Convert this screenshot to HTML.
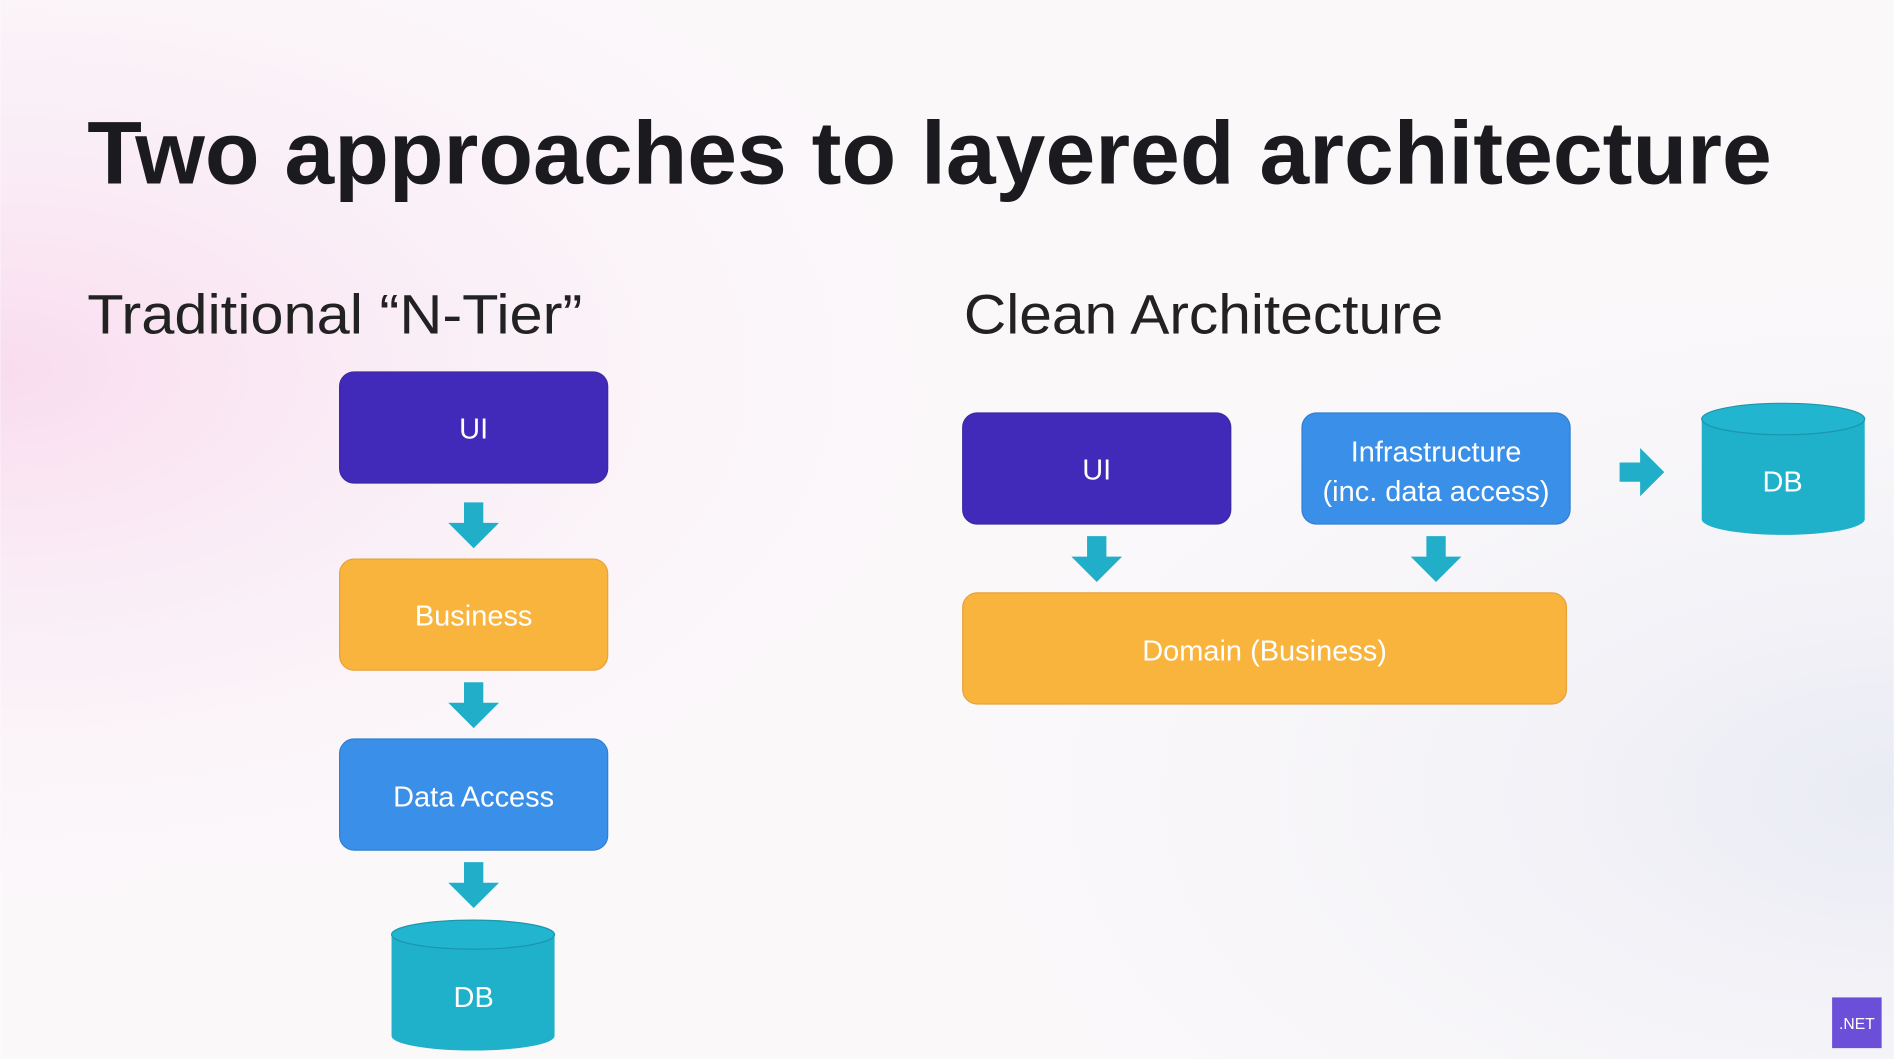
<!DOCTYPE html>
<html><head><meta charset="utf-8"><style>
html,body{margin:0;padding:0;width:1894px;height:1059px;overflow:hidden;background:#fff}
svg{display:block}
</style></head><body>
<svg width="1894" height="1059" viewBox="0 0 1568 877" xmlns="http://www.w3.org/2000/svg">
<defs>
<radialGradient id="pk" cx="0" cy="0.35" r="0.55">
<stop offset="0" stop-color="#f9dcef"/><stop offset="1" stop-color="#fbf6fa" stop-opacity="0"/></radialGradient>
<radialGradient id="gr" cx="1" cy="0.75" r="0.5">
<stop offset="0" stop-color="#e9ebf4"/><stop offset="1" stop-color="#f4f4f8" stop-opacity="0"/></radialGradient>
<g id="ad"><path d="M-8,0 H8 V17 H21 L0,38 L-21,17 H-8 Z" fill="#21aec9"/></g>
</defs>
<rect width="1568" height="877" fill="#fbf8fa"/>
<rect width="1568" height="877" fill="url(#pk)"/>
<rect width="1568" height="877" fill="url(#gr)"/>
<g font-family="'Liberation Sans',sans-serif">
<text x="72" y="152" font-size="74" font-weight="bold" fill="#1b1b1f" textLength="1395" lengthAdjust="spacingAndGlyphs">Two approaches to layered architecture</text>
<text x="72" y="276" font-size="46" fill="#222" textLength="410" lengthAdjust="spacingAndGlyphs">Traditional “N-Tier”</text>
<text x="798" y="276" font-size="46" fill="#222" textLength="397" lengthAdjust="spacingAndGlyphs">Clean Architecture</text>
<g font-size="24" fill="#fff" text-anchor="middle">
<rect x="281" y="308" width="222" height="92" rx="12" fill="#4129b9" stroke="#3a2aa0"/>
<text x="392" y="363">UI</text>
<use href="#ad" x="392" y="416"/>
<rect x="281" y="463" width="222" height="92" rx="12" fill="#f8b43c" stroke="#e7a23a"/>
<text x="392" y="518">Business</text>
<use href="#ad" x="392" y="565"/>
<rect x="281" y="612" width="222" height="92" rx="12" fill="#3a8fe8" stroke="#2f7fd0"/>
<text x="392" y="668">Data Access</text>
<use href="#ad" x="392" y="714"/>
<path d="M324,774 V858 A67.5,12 0 0 0 459,858 V774 Z" fill="#1fb0ca"/>
<ellipse cx="391.5" cy="774" rx="67.5" ry="12" fill="#22b5cf" stroke="#1a97ad"/>
<text x="392" y="834">DB</text>

<rect x="797" y="342" width="222" height="92" rx="12" fill="#4129b9" stroke="#3a2aa0"/>
<text x="908" y="397">UI</text>
<rect x="1078" y="342" width="222" height="92" rx="12" fill="#3a8fe8" stroke="#2f7fd0"/>
<text x="1189" y="382">Infrastructure</text>
<text x="1189" y="415">(inc. data access)</text>
<path d="M1341,383 H1358 V371 L1378,391 L1358,411 V399 H1341 Z" fill="#21aec9"/>
<path d="M1409,347 V430 A67.5,13 0 0 0 1544,430 V347 Z" fill="#1fb0ca"/>
<ellipse cx="1476.5" cy="347" rx="67.5" ry="13" fill="#22b5cf" stroke="#1a97ad"/>
<text x="1476" y="407">DB</text>
<use href="#ad" x="908" y="444"/>
<use href="#ad" x="1189" y="444"/>
<rect x="797" y="491" width="500" height="92" rx="12" fill="#f8b43c" stroke="#e7a23a"/>
<text x="1047" y="547">Domain (Business)</text>
</g>
<rect x="1517" y="826" width="41" height="42" fill="#6b4fd8"/>
<text x="1537.5" y="852" font-size="13" fill="#fff" text-anchor="middle">.NET</text>
</g>
</svg>
</body></html>
